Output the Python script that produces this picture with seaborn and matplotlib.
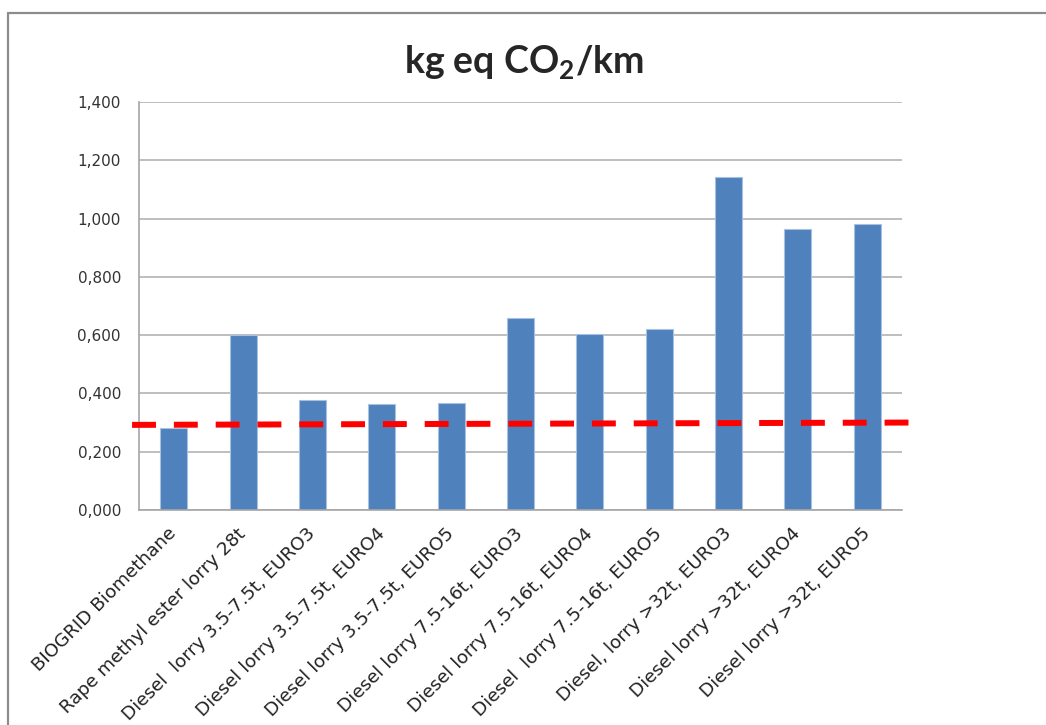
import numpy as np
import pandas as pd
import seaborn as sns
import matplotlib.pyplot as plt
from matplotlib.lines import Line2D

# data
categories = [
    "BIOGRID Biomethane",
    "Rape methyl ester lorry 28t",
    "Diesel  lorry 3.5-7.5t, EURO3",
    "Diesel lorry 3.5-7.5t, EURO4",
    "Diesel lorry 3.5-7.5t, EURO5",
    "Diesel lorry 7.5-16t, EURO3",
    "Diesel lorry 7.5-16t, EURO4",
    "Diesel  lorry 7.5-16t, EURO5",
    "Diesel, lorry >32t, EURO3",
    "Diesel lorry >32t, EURO4",
    "Diesel lorry >32t, EURO5",
]
co2_per_km = [0.282, 0.600, 0.379, 0.363, 0.368, 0.659, 0.604, 0.620, 1.143, 0.964, 0.981]
reference_level = [0.292, 0.300]  # red dashed line, left end / right end
y_ticks = [0.0, 0.2, 0.4, 0.6, 0.8, 1.0, 1.2, 1.4]
y_tick_labels = ["0,000", "0,200", "0,400", "0,600", "0,800", "1,000", "1,200", "1,400"]

sns.set_style("white")
plt.rcParams['font.family'] = ['DejaVu Sans']

df = pd.DataFrame({'category': categories, 'value': co2_per_km})

fig = plt.figure(figsize=(10.46, 7.25), dpi=100)
ax = fig.add_axes([0.1329, 0.2966, 0.7294, 0.5627])

sns.barplot(data=df, x='category', y='value', color='#4f81bd', width=0.39,
            saturation=1, edgecolor='#a9c1e0', linewidth=0.8, ax=ax, zorder=2)

# red dashed reference line, runs a bit past the plot area
n = len(categories)
ax.plot([-0.6, n - 0.35], reference_level, color='#ff0000', lw=4.3,
        dashes=(4, 3), clip_on=False, zorder=3, solid_capstyle='butt')

ax.set_xlim(-0.5, n - 0.5)
ax.set_ylim(0, 1.4)
ax.set_yticks(y_ticks)
ax.set_yticklabels(y_tick_labels, fontsize=11, color='#333333', family='DejaVu Sans')
ax.yaxis.grid(True, color='#b3b3b3', linewidth=1.2, zorder=0)
ax.set_axisbelow(True)

ax.set_xticks(range(n))
ax.set_xticklabels(categories, rotation=45, ha='right', va='center',
                   rotation_mode='anchor', fontsize=13.2, color='#222222',
                   family='DejaVu Sans')
ax.set_xticks(np.arange(n + 1) - 0.5, minor=True)
ax.tick_params(axis='x', which='major', length=0, pad=15)
ax.tick_params(axis='x', which='minor', length=6, color='#a6a6a6', width=1.2, direction='out')
ax.tick_params(axis='y', length=7, color='#a6a6a6', width=1.2, direction='out', pad=6)

for side in ['top', 'right']:
    ax.spines[side].set_visible(False)
for side in ['left', 'bottom']:
    ax.spines[side].set_color('#a6a6a6')
    ax.spines[side].set_linewidth(1.2)

ax.set_xlabel('')
ax.set_ylabel('')

fig.text(0.501, 0.913, r"kg eq CO$_\mathregular{2}$/km", ha='center', va='center',
         fontsize=27, fontweight='bold', family=['Lato', 'DejaVu Sans'])

# chart frame (top and left edges visible in the reference)
fig.add_artist(Line2D([8 / 1046, 1.0], [1 - 13 / 725, 1 - 13 / 725], color='#8c8c8c', lw=1.6))
fig.add_artist(Line2D([8 / 1046, 8 / 1046], [0, 1 - 13 / 725], color='#8c8c8c', lw=1.6))

fig.savefig('out.png', dpi=100)
